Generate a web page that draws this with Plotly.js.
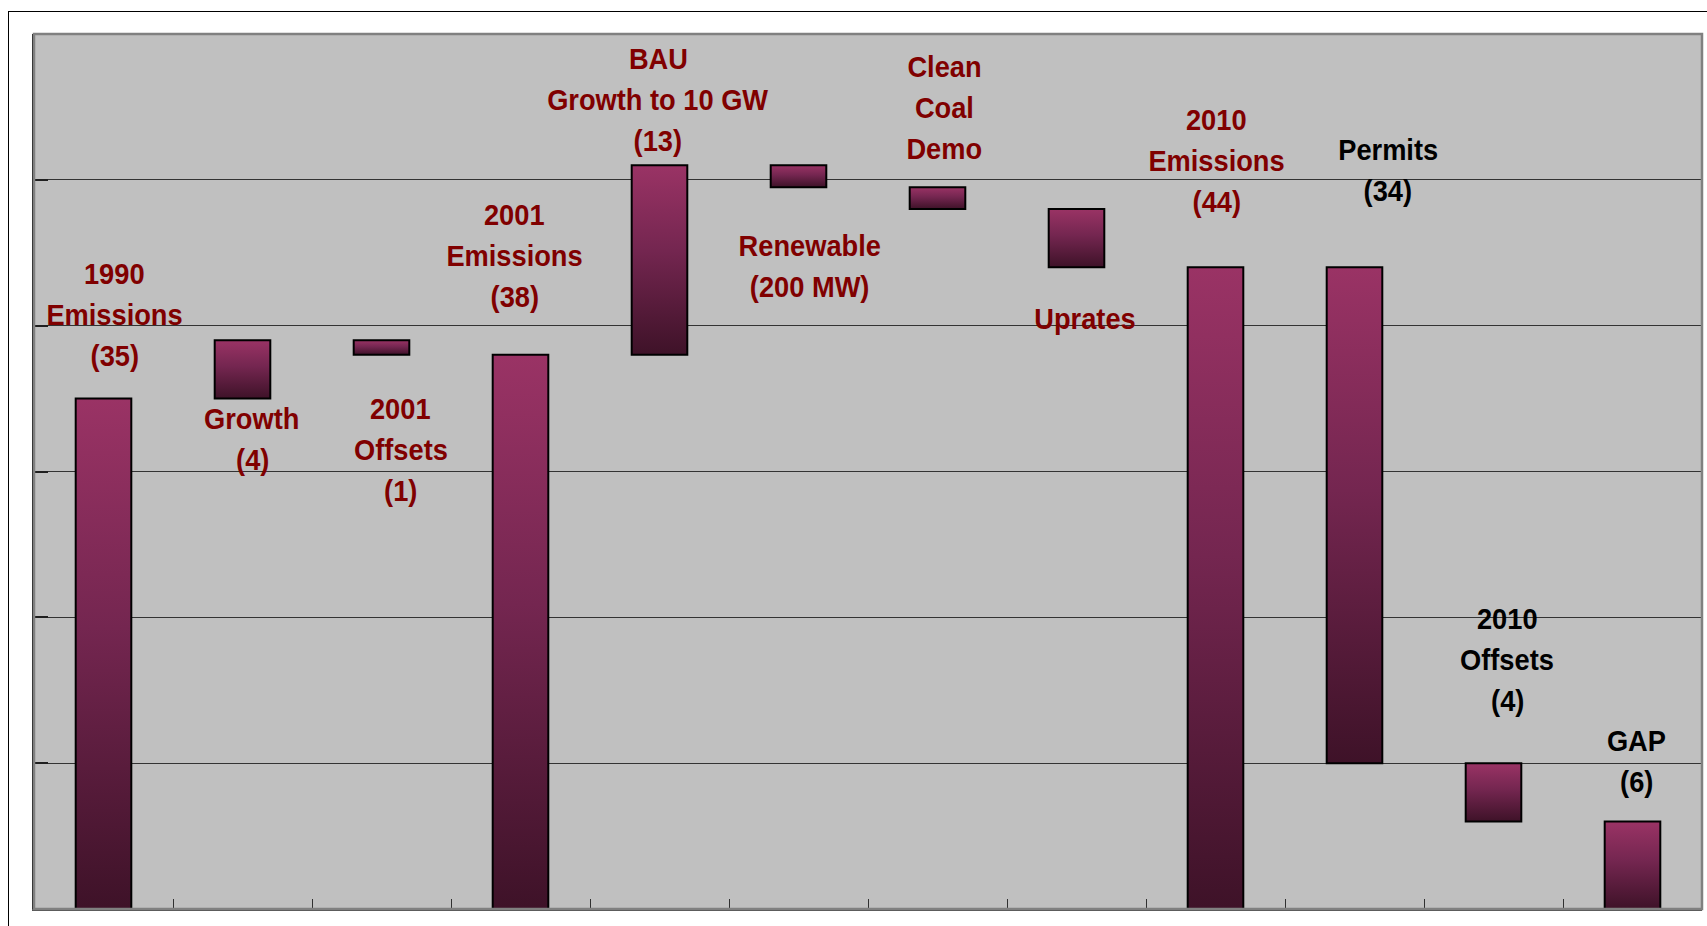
<!DOCTYPE html>
<html>
<head>
<meta charset="utf-8">
<script src="https://cdn.plot.ly/plotly-3.0.1.min.js"></script>
<style>
  html, body { margin: 0; padding: 0; background: #fff; }
  #chart { width: 1707px; height: 926px; }
  #frame { position: absolute; left: 8px; top: 11px; width: 1800px; height: 1000px;
           border-left: 1.5px solid #000; border-top: 1.5px solid #000; pointer-events: none; }
  #chart text.annotation-text { transform-box: fill-box; transform-origin: center; transform: scaleX(0.94); }
</style>
</head>
<body>
<div id="chart"></div>
<div id="frame"></div>
<script>
// ---- data ----
const categories = ['1990 Emissions', 'Growth', '2001 Offsets', '2001 Emissions',
  'BAU Growth to 10 GW', 'Renewable (200 MW)', 'Clean Coal Demo', 'Uprates',
  '2010 Emissions', 'Permits', '2010 Offsets', 'GAP'];
const barBase = [0, 35, 38, 0, 38, 49.5, 48, 44, 0, 10, 6, 0];
const barSize = [35, 4, 1, 38, 13, 1.5, 1.5, 4, 44, 34, 4, 6];
const labelText = ['1990<br>Emissions<br>(35)', 'Growth<br>(4)', '2001<br>Offsets<br>(1)',
  '2001<br>Emissions<br>(38)', 'BAU<br>Growth to 10 GW<br>(13)', 'Renewable<br>(200 MW)',
  'Clean<br>Coal<br>Demo', 'Uprates', '2010<br>Emissions<br>(44)', 'Permits<br>(34)',
  '2010<br>Offsets<br>(4)', 'GAP<br>(6)'];

// ---- label placement & style ----
const labelPos = [
  [0.08, 40.7], [1.07, 32.2], [2.14, 31.5], [2.96, 44.75], [3.99, 55.45], [5.08, 44.05],
  [6.05, 54.9], [7.06, 40.45], [8.01, 51.3], [9.24, 50.65], [10.1, 17.1], [11.03, 10.1]
];
const labelColor = ['#800000','#800000','#800000','#800000','#800000','#800000',
  '#800000','#800000','#800000','#000000','#000000','#000000'];
const FONT = '"Liberation Sans", Arial, sans-serif';
const LINE_PX = 41;

const trace = {
  type: 'bar',
  x: categories,
  y: barSize,
  base: barBase,
  marker: { color: '#6b2248', line: { color: '#000000', width: 2 } },
  hoverinfo: 'none'
};

const annotations = [];
labelText.forEach((t, i) => {
  const lines = t.split('<br>');
  const mid = (lines.length - 1) / 2;
  lines.forEach((ln, k) => {
    annotations.push({
      x: labelPos[i][0], y: labelPos[i][1], xref: 'x', yref: 'y',
      yshift: (mid - k) * LINE_PX,
      text: ln, showarrow: false, xanchor: 'center', yanchor: 'middle',
      font: { family: FONT, size: 29, color: labelColor[i], weight: 'bold' }
    });
  });
});

const layout = {
  width: 1707, height: 926,
  margin: { l: 34, r: 5, t: 34, b: 17, pad: 0 },
  paper_bgcolor: '#ffffff',
  plot_bgcolor: '#c0c0c0',
  showlegend: false,
  bargap: 0.6,
  xaxis: {
    type: 'category', showticklabels: false, showgrid: false, zeroline: false,
    showline: true, linecolor: '#505050', linewidth: 2,
    ticks: 'inside', tickson: 'boundaries', ticklen: 10, tickcolor: '#303030', tickwidth: 1
  },
  yaxis: {
    range: [0, 60], tick0: 0, dtick: 10, showticklabels: false,
    showgrid: true, gridcolor: '#333333', gridwidth: 1, zeroline: false,
    showline: true, linecolor: '#202020', linewidth: 2,
    ticks: 'inside', ticklen: 14, tickcolor: '#202020', tickwidth: 2
  },
  shapes: [
    { type: 'rect', xref: 'paper', yref: 'paper', x0: 0, x1: 1, y0: 0, y1: 1,
      line: { color: '#808080', width: 2.5 }, layer: 'above' }
  ],
  annotations: annotations
};

Plotly.newPlot('chart', [trace], layout, { displayModeBar: false, staticPlot: true }).then(gd => {
  const svg = gd.querySelector('svg.main-svg');
  let defs = svg.querySelector('defs');
  const NS = 'http://www.w3.org/2000/svg';
  if (!defs) { defs = document.createElementNS(NS, 'defs'); svg.insertBefore(defs, svg.firstChild); }
  const grad = document.createElementNS(NS, 'linearGradient');
  grad.setAttribute('id', 'barGrad');
  grad.setAttribute('x1', '0'); grad.setAttribute('y1', '0');
  grad.setAttribute('x2', '0'); grad.setAttribute('y2', '1');
  [['0%', '#9a3365'], ['45%', '#742650'], ['100%', '#3e1228']].forEach(([o, c]) => {
    const s = document.createElementNS(NS, 'stop');
    s.setAttribute('offset', o); s.setAttribute('stop-color', c);
    grad.appendChild(s);
  });
  defs.appendChild(grad);
  gd.querySelectorAll('.trace.bars .point path').forEach(p => {
    p.style.fill = 'url(#barGrad)';
  });
});
</script>
</body>
</html>
